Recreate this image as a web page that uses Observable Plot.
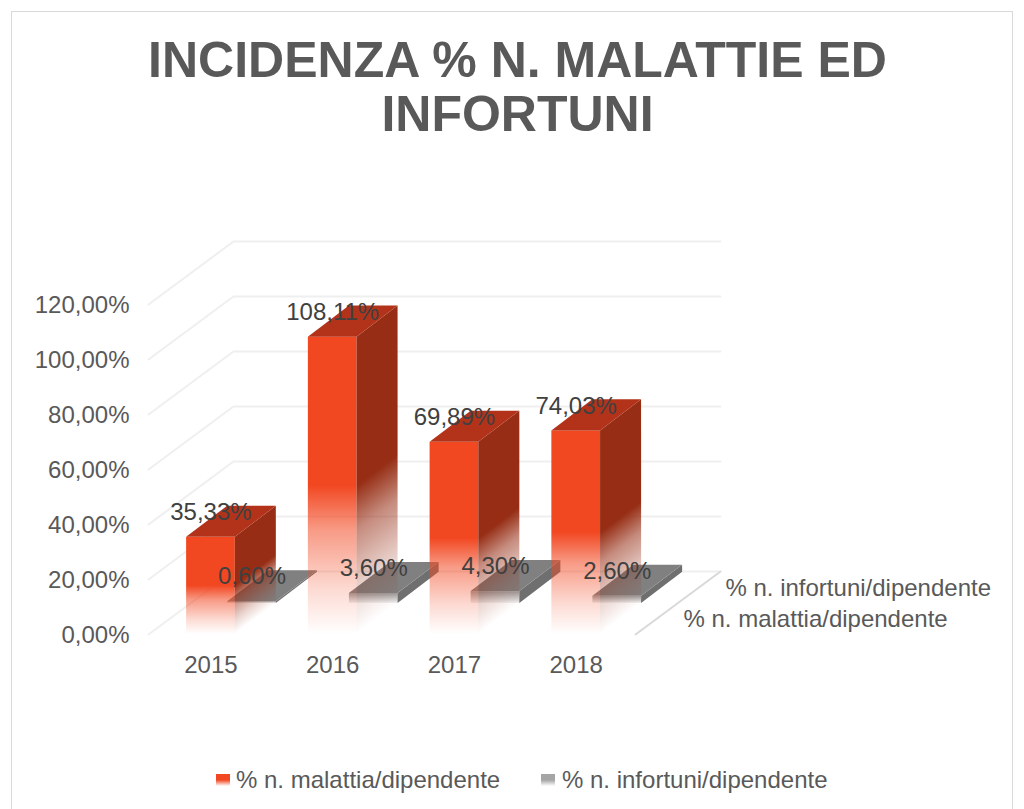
<!DOCTYPE html>
<html><head><meta charset="utf-8">
<script src="https://cdn.jsdelivr.net/npm/d3@7"></script>
<script src="https://cdn.jsdelivr.net/npm/@observablehq/plot@0.6"></script>
<style>
html,body{margin:0;padding:0;background:#fff;font-family:"Liberation Sans",Arial,sans-serif;color:#595959;overflow:hidden}
#page{position:relative;width:1024px;height:809px}
#frame{position:absolute;left:11px;top:11px;width:1000px;height:820px;border:1px solid #d9d9d9;pointer-events:none}
#title{height:160px;box-sizing:border-box;padding-top:33px;padding-left:11px;text-align:center;font-weight:bold;font-size:50px;line-height:54px;color:#595959}
#chart{height:580px}
#chart svg{display:block;overflow:visible}
#legend{position:relative;height:69px;font-size:24px}
#legend span{position:absolute;white-space:nowrap;line-height:26px;top:27px}
#legend i{position:absolute;top:34px;width:14px;height:12px}
</style></head><body>
<div id="page">
<div id="frame"></div>
<div id="title">INCIDENZA % N. MALATTIE ED<br>INFORTUNI</div>
<div id="chart"></div>
<div id="legend">
<i style="left:216px;background:linear-gradient(#f24822 0 50%,#fff)"></i><span style="left:236px">% n. malattia/dipendente</span>
<i style="left:541px;background:linear-gradient(#a5a5a5 0 50%,#fff)"></i><span style="left:562px">% n. infortuni/dipendente</span>
</div>
</div>
<script>
const years = [2015, 2016, 2017, 2018];
const malattia = [35.33, 108.11, 69.89, 74.03];
const infortuni = [0.6, 3.6, 4.3, 2.6];
const yTicks = [0, 20, 40, 60, 80, 100, 120];
const seriesNames = ["% n. malattia/dipendente", "% n. infortuni/dipendente"];
const pct = (v) => v.toFixed(2).replace(".", ",") + "%";

// oblique projection, expressed in data units of the x (years) and y (%) scales
const barW = 0.4, rowDX = 0.337, rowDY = 11.3;
const floorDX = 0.698, floorDY = 22.9;
const left = 2014.487, right = 2018.487;
const txt = "#595959";

function defsMark() {
  const svgNS = "http://www.w3.org/2000/svg";
  const defs = document.createElementNS(svgNS, "defs");
  const grad = (id, color, stops, c) => {
    const g = document.createElementNS(svgNS, "linearGradient");
    g.setAttribute("id", id);
    const [x1, y1, x2, y2] = c || [0, 0, 0, 1];
    g.setAttribute("x1", x1); g.setAttribute("y1", y1); g.setAttribute("x2", x2); g.setAttribute("y2", y2);
    for (const [o, a] of stops) {
      const s = document.createElementNS(svgNS, "stop");
      s.setAttribute("offset", o); s.setAttribute("stop-color", color); s.setAttribute("stop-opacity", a);
      g.appendChild(s);
    }
    defs.appendChild(g);
  };
  const stops = [[0, 1], [0.5, 1], [0.65, 0.55], [0.85, 0.2], [1, 0]];
  grad("frontRed", "#f24822", stops);
  grad("frontGrey", "#9a9a9a", [[0, 1], [1, 0.15]]);
  malattia.forEach((v, i) => {
    const s = rowDY / (v + rowDY);
    const c = v / (v + rowDY) / (s * s + 1);
    grad("sideRed" + i, "#962d14", stops, [0, s, c * s, s + c]);
  });
  return defs;
}

function bar(i, v, row, colors) {
  const x0 = years[i] - barW / 2 + row * rowDX;
  const b = row * rowDY;
  return [
    Plot.rect([0], {x1: x0, x2: x0 + barW, y1: b, y2: b + v, fill: colors.front}),
    Plot.areaY([0, 1], {x: (t) => x0 + barW + t * rowDX, y1: (t) => b + t * rowDY, y2: (t) => b + v + t * rowDY, fill: colors.side}),
    Plot.areaX([0, 1], {y: (t) => b + v + t * rowDY, x1: (t) => x0 + t * rowDX, x2: (t) => x0 + barW + t * rowDX, fill: colors.top})
  ];
}

const gridLines = yTicks.map((t) => Plot.line([
  [left, t], [left + floorDX, t + floorDY], [right + floorDX, t + floorDY]
], {stroke: "#efefef", strokeWidth: 2}));
const floorLine = Plot.line([[right, 0], [right + floorDX, floorDY]], {stroke: "#d9d9d9", strokeWidth: 2});

const labelsOf = (vals, row) => Plot.text(vals, {
  x: (d, i) => years[i] + row * rowDX,
  y: (d) => d + row * rowDY,
  text: pct, dy: -25, fontSize: 24, fill: "#404040"
});

const plot = Plot.plot({
  width: 1024, height: 580,
  marginLeft: 148, marginRight: 389, marginTop: 144, marginBottom: 106,
  style: {background: "transparent", fontFamily: "'Liberation Sans',Arial,sans-serif", overflow: "visible"},
  x: {domain: [left, right], label: null},
  y: {domain: [0, 120], label: null},
  marks: [
    defsMark,
    ...gridLines,
    floorLine,
    ...infortuni.flatMap((v, i) => bar(i, v, 1, {front: "url(#frontGrey)", side: "#6f6f6f", top: "#808080"})),
    ...malattia.flatMap((v, i) => bar(i, v, 0, {front: "url(#frontRed)", side: `url(#sideRed${i})`, top: "#b2331a"})),
    Plot.axisY({ticks: yTicks, tickFormat: pct, tickSize: 0, tickPadding: 19, dy: 1, fontSize: 24, color: txt, label: null}),
    Plot.axisX({ticks: years, tickFormat: (d) => String(d), tickSize: 0, tickPadding: 21, fontSize: 24, color: txt, label: null}),
    labelsOf(malattia, 0),
    labelsOf(infortuni, 1),
    Plot.text([seriesNames[1]], {x: right + floorDX, y: floorDY, dx: 5, dy: 17, text: (d) => d, textAnchor: "start", fontSize: 24, fill: txt}),
    Plot.text([seriesNames[0]], {x: right, y: 0, dx: 48, dy: -15, text: (d) => d, textAnchor: "start", fontSize: 24, fill: txt})
  ]
});
document.getElementById("chart").appendChild(plot);
</script>
</body></html>
